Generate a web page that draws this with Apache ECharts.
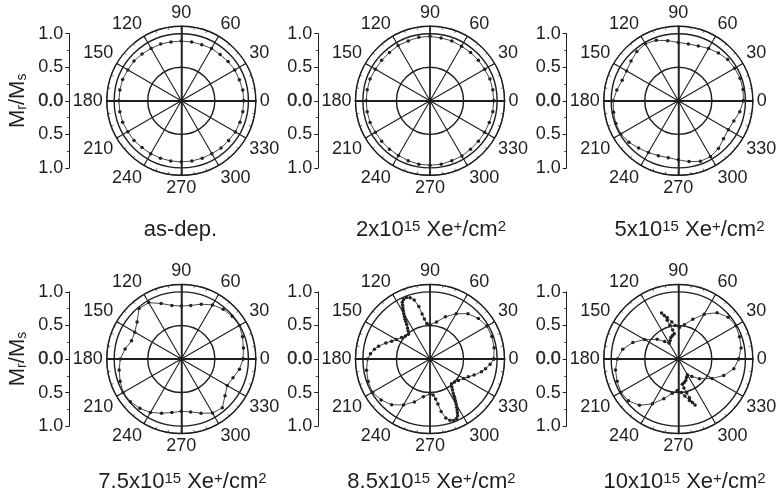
<!DOCTYPE html>
<html>
<head>
<meta charset="utf-8">
<script src="https://cdn.jsdelivr.net/npm/echarts@6/dist/echarts.min.js"></script>
<style>
  html, body { margin: 0; padding: 0; background: #fff; }
  #chart { width: 776px; height: 503px; }
</style>
</head>
<body>
<div id="chart"></div>
<script>
// Remanence ratio Mr/Ms versus in-plane field angle (degrees), one polar panel per fluence.

// Angles of the regularly stepped scans (degrees)
const stepAngles = [0, 10, 20, 30, 40, 50, 60, 70, 80, 90, 100, 110, 120, 130, 140, 150, 160, 170,
                    180, 190, 200, 210, 220, 230, 240, 250, 260, 270, 280, 290, 300, 310, 320, 330, 340, 350];

// Mr/Ms on the stepped angles
const rAsDep = [0.93, 0.93, 0.92, 0.92, 0.91, 0.90, 0.90, 0.89, 0.89, 0.89, 0.89, 0.90, 0.90, 0.91, 0.92, 0.92, 0.93, 0.93,
                0.93, 0.93, 0.93, 0.92, 0.92, 0.91, 0.91, 0.91, 0.91, 0.91, 0.91, 0.91, 0.91, 0.92, 0.92, 0.93, 0.93, 0.93];
const r2e15 = [0.95, 0.95, 0.95, 0.94, 0.94, 0.94, 0.94, 0.95, 0.95, 0.96, 0.96, 0.95, 0.95, 0.94, 0.94, 0.94, 0.95, 0.95,
               0.95, 0.95, 0.95, 0.94, 0.94, 0.94, 0.94, 0.95, 0.96, 0.96, 0.96, 0.95, 0.95, 0.94, 0.94, 0.94, 0.94, 0.95];
const r5e15 = [0.97, 0.98, 0.98, 0.97, 0.96, 0.93, 0.90, 0.87, 0.86, 0.87, 0.91, 0.96, 0.98, 0.96, 0.92, 0.89, 0.89, 0.93,
               0.97, 0.98, 0.99, 0.99, 0.96, 0.92, 0.89, 0.87, 0.86, 0.88, 0.92, 0.96, 0.96, 0.93, 0.88, 0.86, 0.88, 0.93];
const r7p5e15 = [0.92, 0.94, 0.97, 1.00, 0.99, 0.97, 0.93, 0.87, 0.81, 0.79, 0.81, 0.88, 0.97, 0.98, 0.86, 0.80, 0.79, 0.85,
                 0.91, 0.94, 0.97, 1.00, 0.99, 0.96, 0.92, 0.86, 0.81, 0.78, 0.80, 0.86, 0.93, 0.95, 0.85, 0.79, 0.82, 0.88];

// Scans with finer steps around the lobes: angle (deg) and Mr/Ms in measurement order
const angles8p5e15 = [0, 10, 20, 30, 40, 50, 60, 70, 80, 90, 95, 98, 100, 102, 105, 108, 111, 114, 116, 117, 118, 119, 120,
                      121, 122, 123, 124, 126, 128, 131, 137, 143, 150, 155, 160, 166, 170, 175,
                      180, 190, 200, 210, 220, 230, 240, 250, 260, 270, 275, 278, 280, 282, 285, 288, 291, 294, 296, 297, 298,
                      299, 300, 301, 302, 303, 304, 306, 308, 311, 317, 323, 330, 335, 340, 346, 350, 355];
const r8p5e15 = [0.95, 0.97, 0.98, 0.98, 0.94, 0.88, 0.78, 0.67, 0.56, 0.51, 0.53, 0.60, 0.68, 0.80, 0.91, 0.96, 0.98, 0.97, 0.94, 0.90, 0.86, 0.82, 0.78,
                 0.74, 0.70, 0.66, 0.62, 0.57, 0.53, 0.49, 0.50, 0.53, 0.58, 0.63, 0.70, 0.79, 0.84, 0.89,
                 0.93, 0.96, 0.98, 0.99, 0.95, 0.89, 0.79, 0.68, 0.57, 0.52, 0.54, 0.60, 0.68, 0.80, 0.91, 0.96, 0.98, 0.97, 0.94, 0.90, 0.86,
                 0.82, 0.78, 0.74, 0.70, 0.66, 0.62, 0.57, 0.53, 0.49, 0.50, 0.53, 0.58, 0.63, 0.70, 0.79, 0.84, 0.90];
const angles10e15 = [0, 10, 20, 30, 40, 50, 60, 70, 80, 88, 95, 100, 105, 110, 108, 106, 104, 101, 99, 104, 109, 114, 120, 128, 137,
                     150, 160, 170, 180, 190, 200, 210, 220, 230, 240, 250, 260, 268, 275, 280, 285, 290, 288, 286, 284, 281, 279,
                     284, 289, 294, 300, 308, 317, 330, 340, 350];
const r10e15 = [0.90, 0.95, 0.97, 0.99, 0.97, 0.90, 0.77, 0.63, 0.52, 0.47, 0.50, 0.56, 0.64, 0.73, 0.68, 0.60, 0.52, 0.44, 0.38, 0.36, 0.34, 0.30, 0.27, 0.33, 0.43,
                0.58, 0.72, 0.84, 0.91, 0.95, 0.97, 0.99, 0.97, 0.90, 0.77, 0.63, 0.52, 0.47, 0.50, 0.56, 0.64, 0.73, 0.68, 0.60, 0.52, 0.44, 0.38,
                0.36, 0.34, 0.30, 0.27, 0.33, 0.43, 0.58, 0.72, 0.84];

// Panel captions (rich-text markup for the superscripts)
const captions = [
  'as-dep.',
  '2x10{sup|15} Xe{sup|+}/cm{sup|2}',
  '5x10{sup|15} Xe{sup|+}/cm{sup|2}',
  '7.5x10{sup|15} Xe{sup|+}/cm{sup|2}',
  '8.5x10{sup|15} Xe{sup|+}/cm{sup|2}',
  '10x10{sup|15} Xe{sup|+}/cm{sup|2}'
];
const yTitle = 'M{sub|r}/M{sub|s}';

// Left-hand Mr/Ms scale
const scaleMin = -1, scaleMax = 1, scaleStep = 0.5;
const angleStep = 30;

const FONT = '"Liberation Sans", Arial, Helvetica, sans-serif';
const INK = '#1e1e1e';
const TICK_FONT = 18;

function pairs(angles, radii) {
  const d = angles.map((a, i) => [radii[i], a]);
  d.push(d[0].slice());            // close the loop
  return d;
}

const panelData = [
  pairs(stepAngles, rAsDep),
  pairs(stepAngles, r2e15),
  pairs(stepAngles, r5e15),
  pairs(stepAngles, r7p5e15),
  pairs(angles8p5e15, r8p5e15),
  pairs(angles10e15, r10e15)
];

// Layout
const colX = [181.3, 430, 678.3];
const rowY = [100.8, 359];
const outerPx = 74.5;        // radius of the outer angle-axis circle
const radialMax = 1.11;      // Mr/Ms value at the outer circle
const unitPx = outerPx / radialMax;
const axisX = [69.3, 318.3, 566.7];
const captionX = [180.5, 431, 689.5, 182.5, 431.5, 684.5];
const captionY = [230, 482];

// Heavier principal diameters: radius-axis lines at these directions
const heavyRays = [{ angle: 90, width: 1.5 }, { angle: 180, width: 2 }, { angle: 270, width: 1.5 }];

const polar = [], angleAxis = [], radiusAxis = [], series = [];
const grid = [], xAxis = [], yAxis = [], graphic = [];

for (let i = 0; i < 6; i++) {
  const col = i % 3, row = Math.floor(i / 3);
  const cx = colX[col], cy = rowY[row];

  polar.push({ center: [cx, cy], radius: outerPx });
  angleAxis.push({
    polarIndex: i, type: 'value', min: 0, max: 360, interval: angleStep,
    startAngle: 0, clockwise: false,
    axisLine: { show: true, lineStyle: { color: INK, width: 0.8 } },
    axisTick: { show: true, inside: true, length: 3, lineStyle: { color: INK, width: 0.8 } },
    minorTick: { show: true, splitNumber: 3, length: 2.5, lineStyle: { color: INK, width: 0.6 } },
    axisLabel: {
      show: true, margin: 4, fontSize: TICK_FONT, color: INK, fontFamily: FONT,
      formatter: v => (v >= 360 ? '' : String(v))
    },
    splitLine: { show: true, lineStyle: { color: INK, width: 1.1 } }
  });
  radiusAxis.push({
    polarIndex: i, type: 'value', min: 0, max: radialMax, interval: 0.5,
    axisLine: { show: true, lineStyle: { color: INK, width: 2 } },
    axisTick: { show: false }, axisLabel: { show: false },
    splitLine: { show: true, lineStyle: { color: INK, width: 1.4 } }
  });
  series.push({
    type: 'line', coordinateSystem: 'polar', polarIndex: i,
    data: panelData[i],
    symbol: 'circle', symbolSize: 3.5, showSymbol: true,
    lineStyle: { color: '#333', width: 0.9 },
    itemStyle: { color: '#222' },
    z: 5, animation: false
  });

  grid.push({ left: axisX[col], top: cy - unitPx, width: 1, height: 2 * unitPx });
  xAxis.push({ gridIndex: i, type: 'value', show: false, min: 0, max: 1 });
  yAxis.push({
    gridIndex: i, type: 'value', min: scaleMin, max: scaleMax, interval: scaleStep, position: 'left',
    axisLine: { show: true, lineStyle: { color: INK, width: 1 } },
    axisTick: { show: true, length: 4, lineStyle: { color: INK, width: 1 } },
    minorTick: { show: true, splitNumber: 2, length: 2.5, lineStyle: { color: INK, width: 0.8 } },
    splitLine: { show: false },
    axisLabel: {
      margin: 6, fontSize: TICK_FONT, color: INK, fontFamily: FONT,
      formatter: v => (Math.abs(v) < 1e-9 ? '{z|0.0}' : Math.abs(v).toFixed(1)),
      rich: { z: { fontSize: TICK_FONT, fontFamily: FONT, color: INK, textBorderColor: INK, textBorderWidth: 0.4 } }
    }
  });

  graphic.push({
    type: 'text', x: captionX[i], y: captionY[row],
    style: {
      text: captions[i], fill: INK, fontSize: 22, fontFamily: FONT,
      align: 'center', verticalAlign: 'middle',
      rich: { sup: { fontSize: 15, fontFamily: FONT, fill: INK, verticalAlign: 'top', lineHeight: 12 } }
    }
  });

  if (col === 0) {
    graphic.push({
      type: 'text', x: 18, y: cy, rotation: Math.PI / 2,
      style: {
        text: yTitle, fill: INK, fontSize: 22, fontFamily: FONT,
        align: 'center', verticalAlign: 'middle',
        rich: { sub: { fontSize: 14, fontFamily: FONT, fill: INK, verticalAlign: 'bottom', lineHeight: 14 } }
      }
    });
  }
}

// Overlay polars that only contribute their radius-axis line along a principal direction
for (let i = 0; i < 6; i++) {
  const col = i % 3, row = Math.floor(i / 3);
  heavyRays.forEach(ray => {
    const idx = polar.length;
    polar.push({ center: [colX[col], rowY[row]], radius: outerPx });
    angleAxis.push({
      polarIndex: idx, type: 'value', min: 0, max: 360, startAngle: ray.angle, clockwise: false,
      axisLine: { show: false }, axisTick: { show: false }, axisLabel: { show: false },
      splitLine: { show: false }, minorTick: { show: false }
    });
    radiusAxis.push({
      polarIndex: idx, type: 'value', min: 0, max: radialMax,
      axisLine: { show: true, lineStyle: { color: INK, width: ray.width } },
      axisTick: { show: false }, axisLabel: { show: false }, splitLine: { show: false }
    });
  });
}

const chart = echarts.init(document.getElementById('chart'), null, { renderer: 'canvas' });
chart.setOption({
  animation: false,
  backgroundColor: '#fff',
  polar, angleAxis, radiusAxis, grid, xAxis, yAxis, series, graphic
});
</script>
</body>
</html>
